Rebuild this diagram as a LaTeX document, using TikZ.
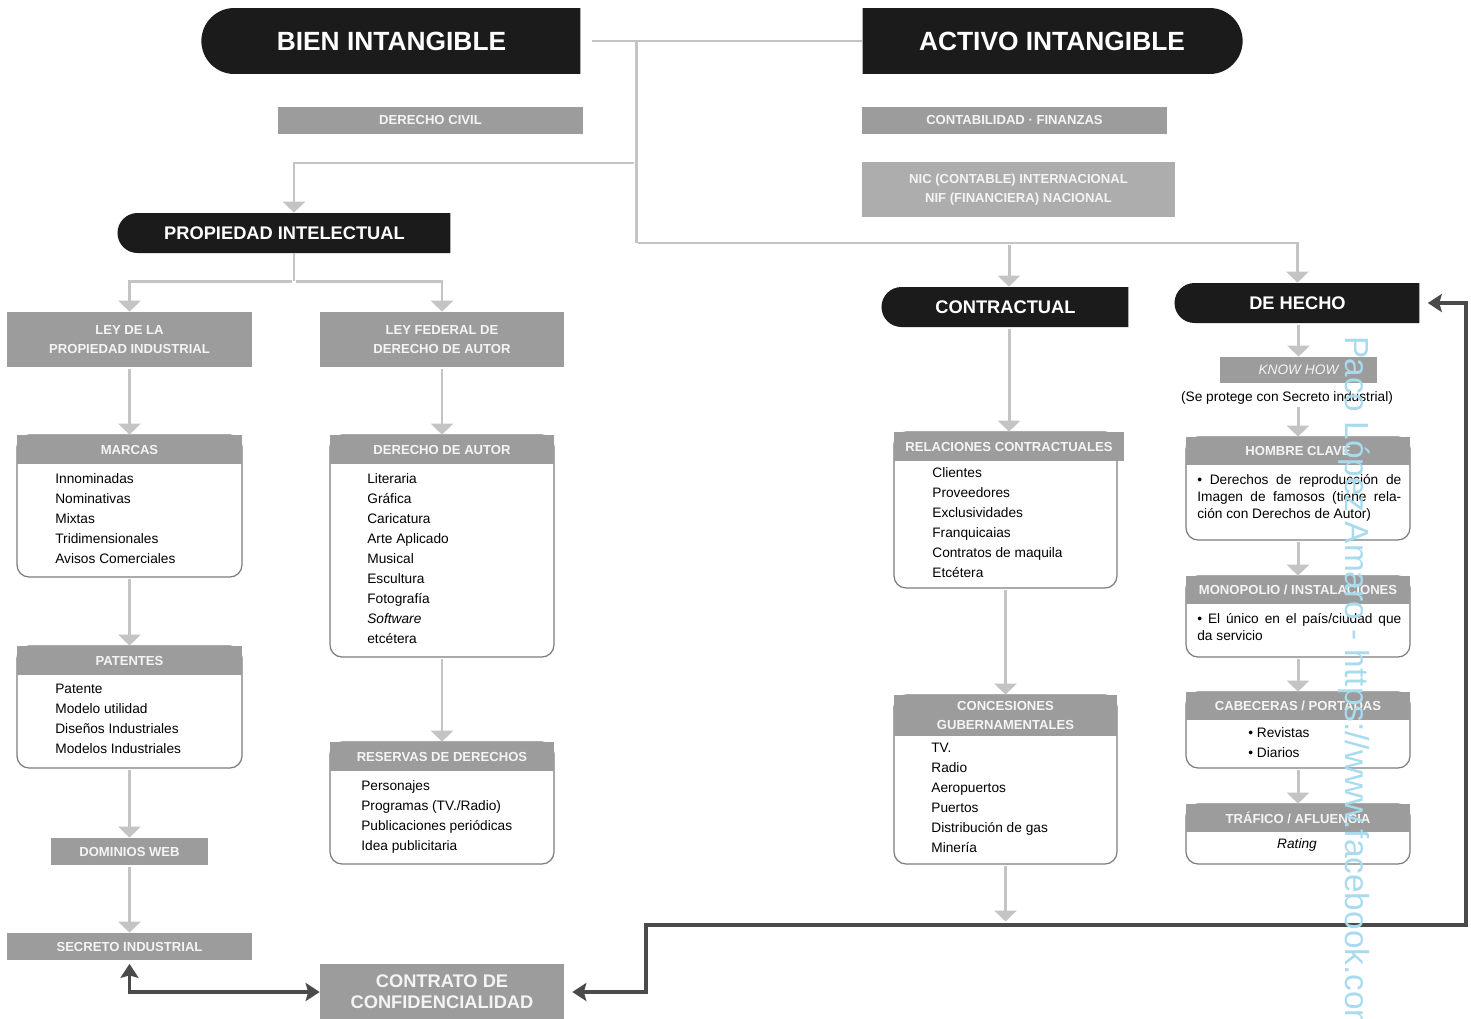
\documentclass[tikz,border=0pt]{standalone}
\usepackage{fontspec}
\setmainfont{Liberation Sans}
\usetikzlibrary{arrows.meta,shapes.misc}
\definecolor{pill}{HTML}{1B1B1B}
\definecolor{hdrgray}{HTML}{9C9C9C}
\definecolor{nicgray}{HTML}{ADADAD}
\definecolor{hdrtext}{HTML}{F4F4F4}
\definecolor{linegray}{HTML}{C4C4C4}
\definecolor{darkline}{HTML}{4A4A4A}
\definecolor{boxline}{HTML}{7D7D7D}
\definecolor{wmblue}{HTML}{A9DBEE}
\begin{document}
\begin{tikzpicture}[x=0.02cm,y=-0.02cm,
  every node/.style={inner sep=0pt},
  pillL/.style={rounded rectangle,rounded rectangle right arc=none,fill=pill,text=white,
    font=\fontsize{10.4}{12}\selectfont\bfseries,minimum height=0.8cm},
  pillR/.style={pillL,rounded rectangle right arc=convex,rounded rectangle left arc=none},
  big/.style={font=\fontsize{15}{18}\selectfont\bfseries,minimum height=1.32cm},
  hdr/.style={fill=hdrgray,text=hdrtext,font=\fontsize{7.45}{10.8}\selectfont\bfseries,align=center},
  body/.style={draw=boxline,line width=0.7pt,fill=white,rounded corners=0.24cm},
  items/.style={anchor=north west,align=left,font=\fontsize{7.8}{11.4}\selectfont},
  para/.style={anchor=north west,text width=4.08cm,align=justify,font=\fontsize{7.8}{9.64}\selectfont},
  conn/.style={draw=linegray,line width=1.7pt},
  arr/.style={conn,shorten <=1pt,-{Triangle[width=0.44cm,length=0.22cm]}},
  dark/.style={draw=darkline,line width=1.8pt,
    {Stealth[width=0.36cm,length=0.28cm,inset=0.05cm]}-{Stealth[width=0.36cm,length=0.28cm,inset=0.05cm]}}]
\useasboundingbox (0,0) rectangle (1471,1018);

% titles
\node[pillL,big,minimum width=7.58cm] (bien) at (391.5,41) {BIEN INTANGIBLE};
\node[pillR,big,minimum width=7.6cm] (activo) at (1052,41) {ACTIVO INTANGIBLE};
\node[hdr,minimum width=6.1cm,minimum height=0.54cm] (civil) at (430.5,120) {DERECHO CIVIL};
\node[hdr,minimum width=6.1cm,minimum height=0.54cm] (conta) at (1014.5,120) {CONTABILIDAD · FINANZAS};
\node[hdr,fill=nicgray,minimum width=6.26cm,minimum height=1.1cm] (nic) at (1018.5,189.5)
  {NIC (CONTABLE) INTERNACIONAL\\NIF (FINANCIERA) NACIONAL};

% propiedad intelectual
\node[pillL,minimum width=6.66cm] (propint) at (284.5,233) {PROPIEDAD INTELECTUAL};
\node[hdr,minimum width=4.9cm,minimum height=1.1cm] (leyind) at (129.5,339.5) {LEY DE LA\\PROPIEDAD INDUSTRIAL};
\node[hdr,minimum width=4.88cm,minimum height=1.1cm] (leyfed) at (442,339.5) {LEY FEDERAL DE\\DERECHO DE AUTOR};

\node[body,minimum width=4.5cm,minimum height=2.84cm] (marcasbox) at (129.5,506) {};
\node[hdr,minimum width=4.5cm,minimum height=0.58cm] (marcas) at (129.5,449.5) {MARCAS};
\node[items] (marcaslist) at (55,473) {Innominadas\\Nominativas\\Mixtas\\Tridimensionales\\Avisos Comerciales};

\node[body,minimum width=4.5cm,minimum height=2.44cm] (patentesbox) at (129.5,707) {};
\node[hdr,minimum width=4.5cm,minimum height=0.58cm] (patentes) at (129.5,660.5) {PATENTES};
\node[items] (patenteslist) at (55,684) {Patente\\Modelo utilidad\\Diseños Industriales\\Modelos Industriales};

\node[hdr,minimum width=3.14cm,minimum height=0.54cm] (dominios) at (129.5,851.5) {DOMINIOS WEB};
\node[hdr,minimum width=4.9cm,minimum height=0.54cm] (secreto) at (129.5,946.5) {SECRETO INDUSTRIAL};

\node[body,minimum width=4.48cm,minimum height=4.44cm] (derautorbox) at (442,546) {};
\node[hdr,minimum width=4.48cm,minimum height=0.58cm] (derautor) at (442,449.5) {DERECHO DE AUTOR};
\node[items] (derautorlist) at (367,473) {Literaria\\Gráfica\\Caricatura\\Arte Aplicado\\Musical\\Escultura\\Fotografía\\\textit{Software}\\etcétera};

\node[body,minimum width=4.48cm,minimum height=2.44cm] (reservasbox) at (442,803) {};
\node[hdr,minimum width=4.48cm,minimum height=0.58cm] (reservas) at (442,756.5) {RESERVAS DE DERECHOS};
\node[items] (reservaslist) at (361,780) {Personajes\\Programas (TV./Radio)\\Publicaciones periódicas\\Idea publicitaria};

\node[hdr,minimum width=4.88cm,minimum height=1.12cm,font=\fontsize{10.4}{11.9}\selectfont\bfseries] (contrato) at (442,992)
  {CONTRATO DE\\CONFIDENCIALIDAD};

% contractual
\node[pillL,minimum width=4.94cm] (contractual) at (1005.5,307) {CONTRACTUAL};
\node[body,minimum width=4.46cm,minimum height=3.12cm] (relacbox) at (1005.5,510) {};
\node[hdr,minimum width=4.6cm,minimum height=0.58cm] (relac) at (1009,446.5) {RELACIONES CONTRACTUALES};
\node[items] (relaclist) at (932,467) {Clientes\\Proveedores\\Exclusividades\\Franquicaias\\Contratos de maquila\\Etcétera};

\node[body,minimum width=4.46cm,minimum height=3.38cm] (concesbox) at (1005.5,779.5) {};
\node[hdr,minimum width=4.46cm,minimum height=0.82cm] (conces) at (1005.5,715.5) {CONCESIONES\\GUBERNAMENTALES};
\node[items] (conceslist) at (931,743) {TV.\\Radio\\Aeropuertos\\Puertos\\Distribución de gas\\Minería};

% de hecho
\node[pillL,minimum width=4.9cm] (dehecho) at (1297.5,303) {DE HECHO};
\node[hdr,minimum width=3.14cm,minimum height=0.52cm,font=\fontsize{7.8}{9}\selectfont\itshape] (knowhow) at (1298.5,370) {KNOW HOW};
\node[font=\fontsize{7.8}{9}\selectfont] (protege) at (1287,398) {(Se protege con Secreto industrial)};

\node[body,minimum width=4.48cm,minimum height=2.06cm] (hombrebox) at (1298,488.5) {};
\node[hdr,minimum width=4.48cm,minimum height=0.56cm] (hombre) at (1298,451) {HOMBRE CLAVE};
\node[para] (hombretxt) at (1197,474) {• Derechos de reproducción de\linebreak Imagen de famosos (tiene rela-\linebreak ción con Derechos de Autor)};

\node[body,minimum width=4.48cm,minimum height=1.62cm] (monobox) at (1298,616.5) {};
\node[hdr,minimum width=4.48cm,minimum height=0.56cm] (mono) at (1298,590) {MONOPOLIO / INSTALACIONES};
\node[para] (monotxt) at (1197,613) {• El único en el país/ciudad que\linebreak da servicio};

\node[body,minimum width=4.48cm,minimum height=1.52cm] (cabebox) at (1298,730) {};
\node[hdr,minimum width=4.48cm,minimum height=0.56cm] (cabe) at (1298,706) {CABECERAS / PORTADAS};
\node[items] (cabelist) at (1248,727) {• Revistas\\• Diarios};

\node[body,minimum width=4.48cm,minimum height=1.2cm] (traficobox) at (1298,834) {};
\node[hdr,minimum width=4.48cm,minimum height=0.56cm] (trafico) at (1298,818) {TRÁFICO / AFLUENCIA};
\node[font=\fontsize{7.8}{9}\selectfont\itshape] (rating) at (1297,845) {Rating};

% light connectors
\coordinate (split) at (636,41);
\coordinate (splitL) at (636,163);
\coordinate (splitR) at (636,243);
\coordinate (busL) at (646,925);
\coordinate (busR) at (1466,925);
\draw[conn] ([xshift=0.22cm]bien.east) -- (activo.west);
\draw[conn] (split) -- (splitR);
\draw[arr] (splitL) -| ([xshift=0.19cm]propint.north);
\draw[arr] (splitR) -| (dehecho.north);
\draw[arr] (splitR -| relac.north) -- (relac.north |- contractual.north);
\draw[conn] ([xshift=0.19cm]propint.south) -- ++(0,28) coordinate (fork);
\draw[arr] (fork) -| (leyind.north);
\draw[arr] (fork) -| (leyfed.north);
\draw[arr] (leyind) -- (marcas);
\draw[arr] (marcasbox) -- (patentes);
\draw[arr] (patentesbox) -- (dominios);
\draw[arr] (dominios) -- (secreto);
\draw[arr] (leyfed) -- (derautor);
\draw[arr] (derautorbox) -- (reservas);
\draw[arr] (relac.north |- contractual.south) -- (relac.north);
\draw[arr] (relacbox) -- (conces);
\draw[arr,shorten >=2pt] (concesbox.south) -- (concesbox.south |- busL);
\draw[arr] (knowhow.north |- dehecho.south) -- (knowhow.north);
\draw[arr] (protege.south -| hombre.north) -- (hombre.north);
\draw[arr] (hombrebox) -- (mono);
\draw[arr] (monobox) -- (cabe);
\draw[arr] (cabebox) -- (trafico);

% dark connectors
\draw[dark,shorten <=2pt] (secreto.south) |- (contrato.west);
\draw[dark,shorten <=0.16cm,shorten >=0.16cm] (contrato.east) -| (busL) -- (busR) |- (dehecho.east);

\node[rotate=-90,anchor=base west,text=wmblue,font=\fontsize{19}{20}\selectfont] (wm) at (1345,336)
  {Paco López Amaro - https://www.facebook.com};
\end{tikzpicture}
\end{document}
